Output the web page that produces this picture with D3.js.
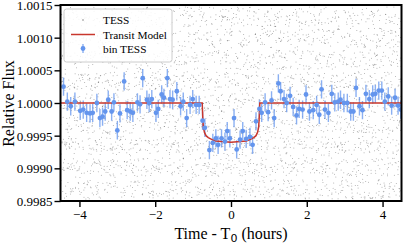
<!DOCTYPE html>
<html>
<head>
<meta charset="utf-8">
<script src="https://cdn.jsdelivr.net/npm/d3@7"></script>
<style>
  body { margin: 0; background: #fff; }
  svg { display: block; }
  text { font-family: "Liberation Serif", "DejaVu Serif", serif; fill: #000; }
</style>
</head>
<body>
<div id="vis"></div>
<script>
// binned TESS points (hours from mid-transit, relative flux)
const binTime = [
  -4.42, -4.32, -4.23, -4.12, -3.98, -3.90, -3.81, -3.72, -3.65, -3.54,
  -3.46, -3.39, -3.32, -3.24, -3.15, -3.09, -3.00, -2.93, -2.82, -2.74,
  -2.66, -2.59, -2.47, -2.40, -2.33, -2.22, -2.16, -2.09, -1.98, -1.92,
  -1.83, -1.77, -1.68, -1.61, -1.54, -1.43, -1.33, -1.26, -1.17, -1.08,
  -1.01, -0.92, -0.84, -0.75, -0.69, -0.57, -0.48, -0.40, -0.34, -0.25,
  -0.16, -0.10, -0.03, 0.08, 0.15, 0.24, 0.31, 0.40, 0.50, 0.57,
  0.66, 0.75, 0.81, 0.90, 0.98, 1.07, 1.14, 1.25, 1.31, 1.40,
  1.47, 1.56, 1.64, 1.73, 1.80, 1.89, 1.98, 2.07, 2.17, 2.26,
  2.33, 2.39, 2.48, 2.57, 2.66, 2.74, 2.83, 2.89, 2.98, 3.07,
  3.16, 3.23, 3.30, 3.39, 3.47, 3.56, 3.65, 3.74, 3.81, 3.90,
  3.98, 4.06, 4.15, 4.24, 4.33, 4.41, 4.48
];
const binFlux = [
  1.00025, 1.00002, 0.99995, 1.00002, 0.99988, 0.99990, 0.99985, 0.99984, 0.99985, 1.00000,
  0.99977, 0.99979, 0.99987, 1.00005, 0.99987, 1.00001, 0.99958, 0.99984, 1.00033, 0.99989,
  0.99987, 0.99985, 1.00001, 0.99998, 1.00038, 1.00005, 1.00000, 1.00006, 0.99985, 0.99991,
  1.00013, 1.00008, 1.00038, 1.00006, 1.00005, 1.00018, 0.99995, 1.00002, 0.99977, 0.99997,
  1.00006, 0.99997, 0.99997, 0.99973, 0.99962, 0.99928, 0.99939, 0.99946, 0.99936, 0.99946,
  0.99941, 0.99957, 0.99946, 0.99977, 0.99929, 0.99944, 0.99957, 0.99945, 0.99948, 0.99936,
  0.99972, 0.99991, 0.99985, 1.00001, 0.99986, 1.00004, 0.99977, 1.00030, 1.00018, 1.00006,
  1.00000, 1.00011, 0.99994, 0.99981, 0.99991, 0.99990, 1.00013, 0.99987, 0.99989, 0.99997,
  0.99982, 1.00021, 0.99990, 0.99985, 1.00014, 1.00001, 1.00002, 1.00005, 1.00000, 1.00000,
  0.99987, 0.99987, 1.00023, 0.99995, 0.99989, 1.00014, 1.00006, 1.00013, 1.00014, 1.00019,
  1.00019, 1.00002, 1.00010, 0.99996, 1.00008, 0.99996, 0.99990
];
const binErr = 0.00014;

// transit model
const modelTime = [-4.5, -0.76, -0.745, -0.73, -0.70, -0.66, -0.60, -0.50, -0.40, -0.25, 0,
  0.25, 0.40, 0.50, 0.60, 0.66, 0.70, 0.73, 0.745, 0.76, 4.5];
const modelFlux = [1, 1, 0.99978, 0.99963, 0.99955, 0.99950, 0.99947, 0.99944, 0.99942, 0.99941, 0.99940,
  0.99941, 0.99942, 0.99944, 0.99947, 0.99950, 0.99955, 0.99963, 0.99978, 1, 1];

const yTicks = [0.9985, 0.999, 0.9995, 1.0, 1.0005, 1.001, 1.0015];
const xTicks = [-4, -2, 0, 2, 4];
const legendLabels = ["TESS", "Transit Model", "bin TESS"];

// unbinned TESS flux, one string per transit, 2 digits per cadence:
// flux = 0.9985 + (digits + 0.5) * 0.00003 + baseline
const tessVisits = [
  "5830194726 0917364852 2648091735 7391520864 1058739246 8462017395 3975148620 6120853974 9283746015 0746291538 4517830926 7862405193 3094618257 1625937048 8359027461 2701486359 6948352170 0473619825 5182740639 9836051247 2561904378 6039287154 1874653092 8420715936 3715086429 7094362851 5269837014 0387529146 9642108573 1458930267 4930275618 8207164395 6781549023 0159386742 3846721590 7523098416 2968410357 9615873204 1034256978 5372981640 6815039274 0491827563 3750692148 8129543706 2486710935 9063258471",
  "7204938516 3158270469 9640157382 0893426175 5271983064 1436508927 8025763149 6390417258 2769831540 4517290683 9182654037 0643719852 3958027416 7316845290 1704592368 5829360741 2047186935 6583940172 8491673205 0375218946 4926057813 1860394527 7532819604 3207645198 9675128430 0418963752 5784301269 2153796084 8391057426 6049823517 1672458390 7938160245 3045972681 0519834726 8260715394 4713629058 2986403175 9357186042 6124590738 5801347962 0735291846 3482607159 9156738420 7849015263 1293478605 4608153972",
  "3916472850 8057319624 1274068593 6495821037 0738156249 5320974816 9861203475 2143587960 7589042613 4026935178 8654107392 0317268945 5792431086 3180754629 9463820157 2905617348 6248953710 1537049826 8071396452 4729185063 0386742915 7613058294 2459861703 9824317560 5167024938 3590842176 6802579341 1948635027 4235170689 8716493205 0573928614 6341057892 2987614350 9108352746 3652490187 7490168253 1825736409 5064281937 8397025164 4713896520 6259148073 0184673529 9536207418 2871350946 5402786931 7628419305",
  "6042817539 2798054316 9315627084 0587493162 4169350728 7823164905 1456908273 8907235641 3270586419 5634719028 0912847365 7385062194 4628179503 2051936847 8743602159 5196480327 3469215870 9802573614 1357048296 6284391750 7539160248 0176824593 4821935067 8695047321 2340781956 5917362804 1068459732 7452013689 3789526410 9203678145 6845713092 0531296478 2164870359 8476039521 4392158760 1710543286 9058627413 3627495108 5283016947 7946382051 0619835724 4358270196 8125697430 2786041853 6503914278 1937580462",
  "8163502947 3529746018 0795381264 6248017593 1476925830 9302648175 4851730926 2617095483 7938462051 5084219637 1359087426 6742315908 0296841753 8415673290 3874150962 9160382547 2543796108 7089524316 4621038795 0937461582 5708293614 3185647029 9426710853 1862035947 6043918275 2397584160 7516402938 4289361705 0674857392 8951270634 3210689457 6837452019 1598034762 9042613875 4765928301 0381746529 7123590486 5946817230 2658307914 8409152673 1832764095 6570419382 3094658127 9261830574 4719025836 0586372941",
  "2957480316 6104839257 3842165079 8275903461 0639514728 5418267093 9761340852 1380975624 4092638175 7523091486 2846157930 9617302548 0358496217 6173829054 3925047681 8460715329 1704632895 5289470163 7531286049 4062918537 9814053726 0275369148 6497812053 3128546790 8650237914 1963704528 5036189247 2741593086 7389420651 4518762039 0847315692 6294071835 3572908461 9135684720 1689253074 5702431968 8016749352 2463875109 6928103745 3705692814 4251869730 7830152496 0169347825 9487026153 1364298570 5623784019",
  "1074629385 5893170642 8320496157 2619583740 7456218903 0931754826 4285601397 9568342071 3127860549 6740935218 0583214769 7263958104 2416083957 8059147632 5692730418 1385409276 9847326501 3026891745 6718450329 4159673082 7904812356 2375068914 0538927461 8641035297 5186342709 3729516840 9402187635 1857093426 6213784590 4960258173 8327941056 0758623194 5491307682 2083675419 7614290538 3946518027 1205836749 6839247105 0572481396 9481705263 2165093847 7398462501 4820157936 1653028479 8037196524 5219740683",
  "9416285073 3280719564 6752043819 0197358426 5834196207 2063847591 8971532640 4509261738 1328704956 7685439120 3041968275 9752146803 1289305647 6503872149 8127654390 2814093576 5376218904 0948571362 7260439815 4695183027 6128537094 0843962715 3574186029 9216703458 2780495163 5462318907 1395670482 8037241596 4809153627 7651829340 2974068153 6318527049 0782145936 5153986720 9406732581 3527801469 8649215037 1860473925 7035694812 4291350786 6548013279 0912876345 3287549610 8706132954 2153607498 9430258716",
  "5381906742 1927463085 7046295138 3609781524 8254037619 0475189236 6132845907 2798306451 4817562093 9560234718 1063928457 4275619830 8914037265 2540893176 6381724590 0829356741 7156248903 3693507812 5407261389 9218475036 2746130958 6058942173 0394265817 7829014365 4513790628 8267351940 1935648207 5680127394 3102985746 9471836520 6850241739 2317968405 8529406317 0143857692 4786213950 7091564238 3624790185 9358012674 1247639058 5906827143 0418293657 6735180429 2169457830 8802364195 4573918206 1384705962",
  "7285013649 4603892175 1958276430 8371540962 2647193058 6019324857 9534817026 0726458391 3189065724 5842731609 9467205138 2135968074 6783041592 0258619743 7941376285 4370852916 8612094537 1594627380 5029183746 3856740219 4308751692 8712369405 0167924853 5493180267 2836547910 7951206348 6024893571 1685437029 9270518634 3748962105 8519240376 1062753948 5437189620 2896014753 6204387195 9783521406 3158694027 0427935861 7641208539 4390576812 9052641378 2618093754 6975328410 0831476592 3206859147 5749130268",
  "4829150736 1673048259 8150927364 3906714582 7241835906 0586293417 9317402658 2765184093 6043579182 5198260374 8724936015 0361827549 4597013628 2819645703 6930582471 1478306925 5206174839 9685231047 3012469758 7349058216 1853792640 6527810493 0964235187 8405619372 2179346805 5730982614 9642157038 3018674529 4286503917 7593418620 1057286394 6821039745 3469721058 8105643279 2748195063 5932860741 0274913586 9516037428 4683251907 1307589462 7851462039 6029374815 3495016782 8162738590 2580419376 0743685291",
  "6158302947 2947165830 5709821436 9382640157 0426759381 7813094265 3594187620 1260538794 8675912043 4031276589 2968435710 7145608392 0582917436 5319724068 9703285164 3826140957 6471093825 1094856273 8350762419 4267381590 0719523648 5842067139 2386914750 9573148026 1608725493 6934150782 3451896207 7028463915 4189037652 8267591304 0915342786 5603827419 2749618053 9182705364 6430159827 1856432970 3097285146 7321964058 8564013792 4710829635 0238576914 9685147203 2413690857 6092875341 5376208149",
  "0873156429 9426318057 3150794286 7564820193 2318965704 6082437915 4739501268 1295674830 8641023597 5907348162 3084259671 7612983045 0459716238 9236504817 5178320946 2805167394 6394782510 1027439685 8560213749 4712856093 3948601752 0253978416 7681325904 5136089247 2469517380 9807243165 6351792048 1784605932 4023819576 8597146203 3260578419 7415932860 0932684157 5186370924 2649051873 9871425360 6305918742 1528763409 4760239581 8094312675 3617580294 7253946108 0481627539 5936084721 2179453860",
  "9547218036 3806195247 6129530478 1473086952 8350742619 4728609135 0961358724 5284917360 2635041897 7019824653 4592671308 8370152946 1846735029 6203498175 9718260543 3452817906 0597364281 7164902835 2831659470 5938470162 1476293058 8029516374 6385142790 3741805629 9250637481 0614928537 5873261094 2196047835 7432589160 4068731952 8927154306 1350896247 6704325819 3581946072 9246173580 0839562714 5712408936 2065739148 8493015627 4127863509 7950284361 3268597410 6801432795 1634075982 9472810653",
  "2360849157 7815362940 4093718562 9548206731 1726495083 6281937405 3407152896 8954063217 0132786549 5679420138 2846319570 9015847362 6374208915 1582693704 4728051396 7039165248 3160984725 8493527061 0657213894 5291740683 7924386150 1845069372 6408152937 3516974028 9782630514 0263718459 4109536287 8537491602 2694805173 7351268940 0928347516 5176903428 6840215739 3415987260 9053672841 1792436085 4628159307 8306574192 2587031964 7934682510 0145923876 6289740351 3571208649 9816357024 4702896135",
  "8731560249 4218975306 1564038927 6093742815 3847192560 9125806473 0470651938 5936287104 2684319750 7302145869 4859670321 1098523746 6527418093 3716094852 8240357619 0963281574 5381746209 2759603418 7104829365 4635172980 9826035147 0392458716 5170894632 3648201957 8913576204 2405963781 6784120395 1237845069 4951670823 7560392481 0318597642 9682314075 3027658914 5849103267 1496872350 8273549106 6051438729 2714965830 9468027513 3590716284 7836295401 0145382697 5921840736 4307691852 8652174039"
];
const visitBaseline = [0, 0.000012, -0.000009, 0.000005, -0.000014, 0.000008, -0.000003, 0.000014,
  -0.000011, 0.000002, 0.000006, -0.000012, 0.000010, -0.000006, 0.000016, -0.000001];
const visitPhase = [0, 0.5, 0.25, 0.75, 0.1, 0.6, 0.35, 0.85, 0.2, 0.7, 0.45, 0.95, 0.15, 0.65, 0.4, 0.9];

let margin = { top: 5, left: 60.5, right: 5.5, bottom: 43 },
  width = 407 - margin.left - margin.right,
  height = 244 - margin.top - margin.bottom;

let svg = d3
  .select("#vis")
  .append("svg")
  .attr("width", 407)
  .attr("height", 244)
  .style("background-color", "white");

let g = svg.append("g").attr("transform", `translate(${margin.left},${margin.top})`);

let x = d3.scaleLinear().domain([-4.5, 4.5]).range([0, width]);
let y = d3.scaleLinear().domain([0.9985, 1.0015]).range([height, 0]);

svg.append("defs").append("clipPath").attr("id", "plotclip")
  .append("rect").attr("width", width).attr("height", height);

let plot = g.append("g").attr("clip-path", "url(#plotclip)");

// unbinned points
let tess = [];
tessVisits.forEach((s, v) => {
  const digits = s.replace(/\D/g, "");
  const n = digits.length / 2;
  for (let k = 0; k < n; k++) {
    const level = +digits.substr(2 * k, 2);
    tess.push({
      t: -4.5 + (k + visitPhase[v]) * 9 / n,
      f: 0.9985 + (level + 0.5) * 0.00003 + visitBaseline[v],
    });
  }
});

plot.append("g")
  .selectAll("circle")
  .data(tess)
  .join("circle")
  .attr("cx", (d) => x(d.t))
  .attr("cy", (d) => y(d.f))
  .attr("r", 0.5)
  .attr("fill", "#222")
  .attr("fill-opacity", 0.4);

// binned points with error bars
let bins = binTime.map((t, i) => ({ t: t, f: binFlux[i] }));

plot.append("g")
  .selectAll("line")
  .data(bins)
  .join("line")
  .attr("x1", (d) => x(d.t))
  .attr("x2", (d) => x(d.t))
  .attr("y1", (d) => y(d.f - binErr))
  .attr("y2", (d) => y(d.f + binErr))
  .attr("stroke", "#6495ed")
  .attr("stroke-opacity", 0.75)
  .attr("stroke-width", 1.4);

// transit model
let line = d3.line().x((d) => x(d[0])).y((d) => y(d[1]));
plot.append("path")
  .datum(modelTime.map((t, i) => [t, modelFlux[i]]))
  .attr("d", line)
  .attr("fill", "none")
  .attr("stroke", "#c8372d")
  .attr("stroke-width", 1.5);

plot.append("g")
  .selectAll("circle")
  .data(bins)
  .join("circle")
  .attr("cx", (d) => x(d.t))
  .attr("cy", (d) => y(d.f))
  .attr("r", 2.4)
  .attr("fill", "#6495ed");

// axes
let yAxis = g.append("g")
  .call(d3.axisLeft(y).tickValues(yTicks).tickFormat(d3.format(".4f")).tickSize(6).tickPadding(2));
let xAxis = g.append("g")
  .attr("transform", `translate(0,${height})`)
  .call(d3.axisBottom(x).tickValues(xTicks).tickFormat(d3.format("d")).tickSize(6).tickPadding(3));

[yAxis, xAxis].forEach((a) => {
  a.select(".domain").remove();
  a.selectAll(".tick line").attr("stroke", "#000").attr("stroke-width", 1.4);
  a.selectAll(".tick text")
    .style("font-family", '"Liberation Serif", serif')
    .style("font-size", "13px")
    .attr("fill", "#000");
});
yAxis.selectAll(".tick text").attr("dy", "0.34em");

// frame
g.append("rect")
  .attr("width", width)
  .attr("height", height)
  .attr("fill", "none")
  .attr("stroke", "#000")
  .attr("stroke-width", 2);

// axis labels
svg.append("text")
  .attr("transform", "translate(14,103.5) rotate(-90)")
  .attr("text-anchor", "middle")
  .style("font-size", "16px")
  .text("Relative Flux");

let xl = svg.append("text")
  .attr("x", margin.left + width / 2)
  .attr("y", 239)
  .attr("text-anchor", "middle")
  .style("font-size", "16px");
xl.append("tspan").text("Time - T");
xl.append("tspan")
  .attr("dy", 2.5)
  .style("font-family", '"DejaVu Sans", sans-serif')
  .style("font-size", "11px")
  .text("0");
xl.append("tspan").attr("dy", -2.5).text(" (hours)");

// legend
let leg = svg.append("g");
leg.append("rect")
  .attr("x", 64)
  .attr("y", 9)
  .attr("width", 108)
  .attr("height", 53)
  .attr("rx", 2.5)
  .attr("fill", "white")
  .attr("fill-opacity", 0.85)
  .attr("stroke", "#cccccc")
  .attr("stroke-width", 1);

let rows = [20, 34.5, 48.5];
leg.append("circle").attr("cx", 83).attr("cy", rows[0]).attr("r", 0.7).attr("fill", "#000").attr("fill-opacity", 0.6);
leg.append("line").attr("x1", 71).attr("x2", 95).attr("y1", rows[1]).attr("y2", rows[1])
  .attr("stroke", "#c8372d").attr("stroke-width", 1.5);
leg.append("line").attr("x1", 83).attr("x2", 83).attr("y1", rows[2] - 4.5).attr("y2", rows[2] + 4.5)
  .attr("stroke", "#6495ed").attr("stroke-opacity", 0.75).attr("stroke-width", 1.4);
leg.append("circle").attr("cx", 83).attr("cy", rows[2]).attr("r", 2.4).attr("fill", "#6495ed");

leg.selectAll("text.lab")
  .data(legendLabels)
  .join("text")
  .attr("class", "lab")
  .attr("x", 103)
  .attr("y", (d, i) => rows[i] + 4)
  .style("font-size", "11.3px")
  .text((d) => d);
</script>
</body>
</html>
